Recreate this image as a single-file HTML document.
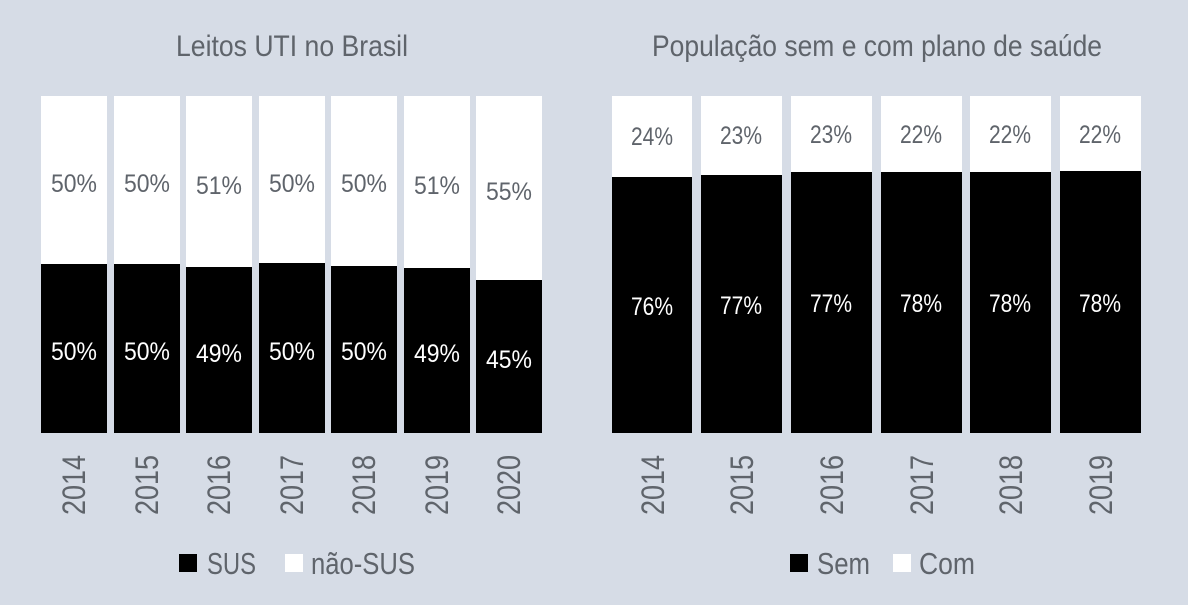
<!DOCTYPE html>
<html><head><meta charset="utf-8"><style>
html,body{margin:0;padding:0;background:#d6dce6;}
svg{display:block}
text{font-family:"Liberation Sans",sans-serif;}
</style></head><body>
<svg width="1188" height="605" viewBox="0 0 1188 605">
<rect width="1188" height="605" fill="#d6dce6"/>
<g fill="#5f646b" font-size="30">
<text x="292" y="56" text-anchor="middle" textLength="232" lengthAdjust="spacingAndGlyphs">Leitos UTI no Brasil</text>
<text x="877" y="56" text-anchor="middle" textLength="450" lengthAdjust="spacingAndGlyphs">População sem e com plano de saúde</text>
</g>
<g>
<rect x="41" y="96" width="66" height="337" fill="#fff"/><rect x="41" y="264" width="66" height="169" fill="#000"/>
<rect x="114" y="96" width="66" height="337" fill="#fff"/><rect x="114" y="264" width="66" height="169" fill="#000"/>
<rect x="186" y="96" width="66" height="337" fill="#fff"/><rect x="186" y="267" width="66" height="166" fill="#000"/>
<rect x="259" y="96" width="66" height="337" fill="#fff"/><rect x="259" y="263" width="66" height="170" fill="#000"/>
<rect x="331" y="96" width="66" height="337" fill="#fff"/><rect x="331" y="266" width="66" height="167" fill="#000"/>
<rect x="404" y="96" width="66" height="337" fill="#fff"/><rect x="404" y="268" width="66" height="165" fill="#000"/>
<rect x="476" y="96" width="66" height="337" fill="#fff"/><rect x="476" y="280" width="66" height="153" fill="#000"/>
</g>
<g font-size="25" text-anchor="middle" fill="#5f646b">
<text x="74" y="192" textLength="46" lengthAdjust="spacingAndGlyphs">50%</text>
<text x="147" y="192" textLength="46" lengthAdjust="spacingAndGlyphs">50%</text>
<text x="219" y="194" textLength="46" lengthAdjust="spacingAndGlyphs">51%</text>
<text x="292" y="192" textLength="46" lengthAdjust="spacingAndGlyphs">50%</text>
<text x="364" y="192" textLength="46" lengthAdjust="spacingAndGlyphs">50%</text>
<text x="437" y="194" textLength="46" lengthAdjust="spacingAndGlyphs">51%</text>
<text x="509" y="200" textLength="46" lengthAdjust="spacingAndGlyphs">55%</text>
</g>
<g font-size="25" text-anchor="middle" fill="#fff">
<text x="74" y="360" textLength="46" lengthAdjust="spacingAndGlyphs">50%</text>
<text x="147" y="360" textLength="46" lengthAdjust="spacingAndGlyphs">50%</text>
<text x="219" y="362" textLength="46" lengthAdjust="spacingAndGlyphs">49%</text>
<text x="292" y="360" textLength="46" lengthAdjust="spacingAndGlyphs">50%</text>
<text x="364" y="360" textLength="46" lengthAdjust="spacingAndGlyphs">50%</text>
<text x="437" y="362" textLength="46" lengthAdjust="spacingAndGlyphs">49%</text>
<text x="509" y="368" textLength="46" lengthAdjust="spacingAndGlyphs">45%</text>
</g>
<g>
<rect x="612" y="96" width="80" height="337" fill="#fff"/><rect x="612" y="177" width="80" height="256" fill="#000"/>
<rect x="701" y="96" width="81" height="337" fill="#fff"/><rect x="701" y="175" width="81" height="258" fill="#000"/>
<rect x="791" y="96" width="81" height="337" fill="#fff"/><rect x="791" y="172" width="81" height="261" fill="#000"/>
<rect x="881" y="96" width="81" height="337" fill="#fff"/><rect x="881" y="172" width="81" height="261" fill="#000"/>
<rect x="970" y="96" width="81" height="337" fill="#fff"/><rect x="970" y="172" width="81" height="261" fill="#000"/>
<rect x="1060" y="96" width="81" height="337" fill="#fff"/><rect x="1060" y="171" width="81" height="262" fill="#000"/>
</g>
<g font-size="25" text-anchor="middle" fill="#5f646b">
<text x="652" y="145" textLength="42" lengthAdjust="spacingAndGlyphs">24%</text>
<text x="741" y="144" textLength="42" lengthAdjust="spacingAndGlyphs">23%</text>
<text x="831" y="143" textLength="42" lengthAdjust="spacingAndGlyphs">23%</text>
<text x="921" y="143" textLength="42" lengthAdjust="spacingAndGlyphs">22%</text>
<text x="1010" y="143" textLength="42" lengthAdjust="spacingAndGlyphs">22%</text>
<text x="1100" y="143" textLength="42" lengthAdjust="spacingAndGlyphs">22%</text>
</g>
<g font-size="25" text-anchor="middle" fill="#fff">
<text x="652" y="315" textLength="42" lengthAdjust="spacingAndGlyphs">76%</text>
<text x="741" y="314" textLength="42" lengthAdjust="spacingAndGlyphs">77%</text>
<text x="831" y="312" textLength="42" lengthAdjust="spacingAndGlyphs">77%</text>
<text x="921" y="312" textLength="42" lengthAdjust="spacingAndGlyphs">78%</text>
<text x="1010" y="312" textLength="42" lengthAdjust="spacingAndGlyphs">78%</text>
<text x="1100" y="312" textLength="42" lengthAdjust="spacingAndGlyphs">78%</text>
</g>
<g font-size="32" fill="#5f646b" text-anchor="middle">
<text transform="translate(85,485) rotate(-90)" textLength="60" lengthAdjust="spacingAndGlyphs">2014</text>
<text transform="translate(158,485) rotate(-90)" textLength="60" lengthAdjust="spacingAndGlyphs">2015</text>
<text transform="translate(230,485) rotate(-90)" textLength="60" lengthAdjust="spacingAndGlyphs">2016</text>
<text transform="translate(303,485) rotate(-90)" textLength="60" lengthAdjust="spacingAndGlyphs">2017</text>
<text transform="translate(375,485) rotate(-90)" textLength="60" lengthAdjust="spacingAndGlyphs">2018</text>
<text transform="translate(448,485) rotate(-90)" textLength="60" lengthAdjust="spacingAndGlyphs">2019</text>
<text transform="translate(520,485) rotate(-90)" textLength="60" lengthAdjust="spacingAndGlyphs">2020</text>
<text transform="translate(664,485) rotate(-90)" textLength="60" lengthAdjust="spacingAndGlyphs">2014</text>
<text transform="translate(753,485) rotate(-90)" textLength="60" lengthAdjust="spacingAndGlyphs">2015</text>
<text transform="translate(843,485) rotate(-90)" textLength="60" lengthAdjust="spacingAndGlyphs">2016</text>
<text transform="translate(933,485) rotate(-90)" textLength="60" lengthAdjust="spacingAndGlyphs">2017</text>
<text transform="translate(1022,485) rotate(-90)" textLength="60" lengthAdjust="spacingAndGlyphs">2018</text>
<text transform="translate(1112,485) rotate(-90)" textLength="60" lengthAdjust="spacingAndGlyphs">2019</text>
</g>
<rect x="179" y="554" width="18" height="18" fill="#000"/>
<rect x="285" y="554" width="18" height="18" fill="#fff"/>
<rect x="790" y="554" width="18" height="18" fill="#000"/>
<rect x="893" y="554" width="18" height="18" fill="#fff"/>
<g font-size="31" fill="#5f646b">
<text x="207" y="574" textLength="49" lengthAdjust="spacingAndGlyphs">SUS</text>
<text x="311" y="574" textLength="104" lengthAdjust="spacingAndGlyphs">não-SUS</text>
<text x="817" y="574" textLength="53" lengthAdjust="spacingAndGlyphs">Sem</text>
<text x="919" y="574" textLength="56" lengthAdjust="spacingAndGlyphs">Com</text>
</g>
</svg>
</body></html>
